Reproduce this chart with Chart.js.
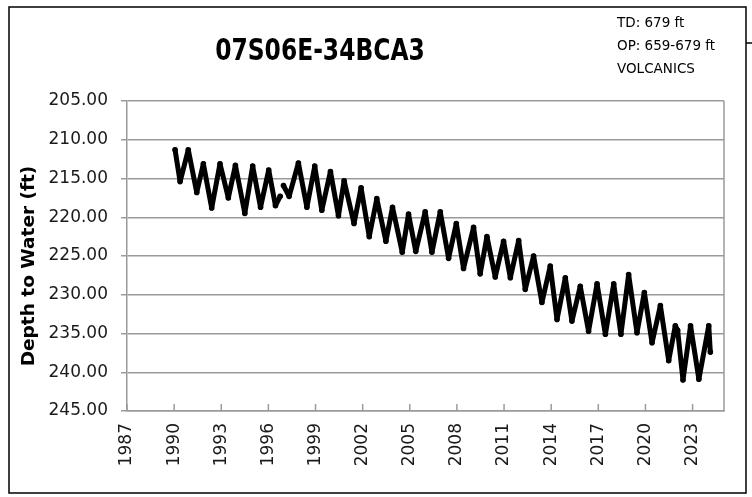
<!DOCTYPE html>
<html>
<head>
<meta charset="utf-8">
<script src="https://cdn.jsdelivr.net/npm/chart.js@4.4.1/dist/chart.umd.min.js"></script>
<style>
	html, body { margin: 0; padding: 0; background: #fff; }
</style>
</head>
<body>
<canvas id="well-chart" width="752" height="497"></canvas>
<script>
// Chart text
var chartTitle = '07S06E-34BCA3';
var wellNotes = ['TD: 679 ft', 'OP: 659-679 ft', 'VOLCANICS'];
var yAxisTitle = 'Depth to Water (ft)';

// Axis ticks
var xTickYears = [1987, 1990, 1993, 1996, 1999, 2002, 2005, 2008, 2011, 2014, 2017, 2020, 2023];
var yTickDepths = [205, 210, 215, 220, 225, 230, 235, 240, 245];

// Measurements (decimal year, depth to water in ft), null = gap in record
var sampleYears = [
	1990.06, 1990.38, 1990.90, 1991.44, 1991.86, 1992.39, 1992.92, 1993.45, 1993.90, 1994.50,
	1995.00, 1995.50, 1996.02, 1996.45, 1996.75, 1996.85, 1996.96, 1997.32, 1997.91, 1998.45,
	1998.95, 1999.40, 1999.95, 2000.46, 2000.82, 2001.45, 2001.90, 2002.42, 2002.90, 2003.48,
	2003.90, 2004.52, 2004.92, 2005.38, 2005.98, 2006.41, 2006.94, 2007.47, 2007.96, 2008.42,
	2009.06, 2009.48, 2009.91, 2010.44, 2010.97, 2011.40, 2011.93, 2012.35, 2012.88, 2013.41,
	2013.94, 2014.37, 2014.90, 2015.32, 2015.85, 2016.38, 2016.92, 2017.45, 2017.98, 2018.44,
	2018.93, 2019.46, 2019.93, 2020.42, 2020.95, 2021.48, 2021.90, 2022.05, 2022.39, 2022.87,
	2023.40, 2024.03, 2024.13
];
var depthFt = [
	211.3, 215.4, 211.3, 216.8, 213.1, 218.8, 213.1, 217.5, 213.3, 219.5,
	213.4, 218.7, 213.9, 218.5, 217.3, null, 215.9, 217.3, 213.0, 218.7,
	213.4, 219.1, 214.1, 219.8, 215.3, 220.8, 216.2, 222.5, 217.6, 223.1,
	218.7, 224.5, 219.6, 224.4, 219.3, 224.5, 219.3, 225.3, 220.8, 226.6,
	221.3, 227.3, 222.5, 227.7, 223.1, 227.8, 223.0, 229.3, 225.0, 231.0,
	226.3, 233.2, 227.8, 233.4, 228.9, 234.7, 228.6, 235.1, 228.6, 235.1,
	227.4, 234.9, 229.7, 236.2, 231.4, 238.5, 234.0, 234.6, 241.0, 234.0,
	240.9, 234.0, 237.4
];

var textFont = '"DejaVu Sans", "Liberation Sans", sans-serif';
var textColor = '#1a1a1a';
var axisGray = '#9a9a9a';

var points = sampleYears.map(function(yr, i) {
	return { x: yr, y: depthFt[i] };
});

// x ticks point into the plot, plus the right frame of the plot area
var plotFrame = {
	id: 'plotFrame',
	beforeDatasetsDraw: function(chart) {
		var ctx = chart.ctx;
		var area = chart.chartArea;
		var xs = chart.scales.x;
		ctx.save();
		ctx.strokeStyle = axisGray;
		ctx.lineWidth = 1.5;
		xs.ticks.forEach(function(t) {
			var px = xs.getPixelForValue(t.value);
			ctx.beginPath();
			ctx.moveTo(px, area.bottom);
			ctx.lineTo(px, area.bottom - 7);
			ctx.stroke();
		});
		ctx.beginPath();
		ctx.moveTo(area.right, area.top);
		ctx.lineTo(area.right, area.bottom);
		ctx.stroke();
		ctx.restore();
	}
};

// title, well notes, y title and outer frame
var chartText = {
	id: 'chartText',
	afterDraw: function(chart) {
		var ctx = chart.ctx;
		ctx.save();
		ctx.fillStyle = '#000';
		ctx.textBaseline = 'middle';

		// narrow the bold title a bit, the original face is condensed
		ctx.save();
		ctx.translate(320, 52);
		ctx.scale(0.78, 1);
		ctx.textAlign = 'center';
		ctx.font = 'bold 30px ' + textFont;
		ctx.fillText(chartTitle, 0, 0);
		ctx.restore();

		ctx.textAlign = 'left';
		ctx.font = '13.5px ' + textFont;
		wellNotes.forEach(function(line, i) {
			ctx.fillText(line, 617, 23 + i * 23);
		});

		ctx.save();
		ctx.translate(29, 266);
		ctx.rotate(-Math.PI / 2);
		ctx.textAlign = 'center';
		ctx.font = 'bold 18.5px ' + textFont;
		ctx.fillText(yAxisTitle, 0, 0);
		ctx.restore();

		ctx.strokeStyle = '#000';
		ctx.lineWidth = 1.5;
		ctx.strokeRect(9, 7, 737, 486);
		ctx.beginPath();
		ctx.moveTo(746, 43);
		ctx.lineTo(752, 43);
		ctx.stroke();
		ctx.restore();
	}
};

new Chart(document.getElementById('well-chart'), {
	type: 'line',
	data: {
		datasets: [{
			label: chartTitle,
			data: points,
			borderColor: '#000',
			backgroundColor: '#000',
			borderWidth: 5,
			borderJoinStyle: 'round',
			borderCapStyle: 'round',
			pointRadius: 2.8,
			pointBorderWidth: 0,
			tension: 0,
			spanGaps: false
		}]
	},
	options: {
		responsive: false,
		devicePixelRatio: 1,
		animation: false,
		layout: {
			padding: { top: 101, right: 28, bottom: 26, left: 0 }
		},
		plugins: {
			legend: { display: false },
			tooltip: { enabled: false }
		},
		scales: {
			x: {
				type: 'linear',
				min: 1987,
				max: 2025,
				afterFit: function(scale) { scale.height = 60; },
				afterBuildTicks: function(scale) {
					scale.ticks = xTickYears.map(function(v) { return { value: v }; });
				},
				ticks: {
					minRotation: 90,
					maxRotation: 90,
					padding: 12,
					color: textColor,
					font: { family: textFont, size: 17 },
					callback: function(value) { return String(value); }
				},
				grid: { display: false, drawTicks: false },
				border: { display: true, color: axisGray, width: 1.5 }
			},
			y: {
				reverse: true,
				min: 205,
				max: 245,
				afterFit: function(scale) { scale.width = 127; },
				afterBuildTicks: function(scale) {
					scale.ticks = yTickDepths.map(function(v) { return { value: v }; });
				},
				ticks: {
					padding: 13,
					color: textColor,
					font: { family: textFont, size: 17 },
					callback: function(value) { return value.toFixed(2); }
				},
				grid: {
					color: axisGray,
					lineWidth: 1.5,
					tickLength: 6,
					drawTicks: true
				},
				border: { display: true, color: axisGray, width: 1.5 }
			}
		}
	},
	plugins: [plotFrame, chartText]
});
</script>
</body>
</html>
